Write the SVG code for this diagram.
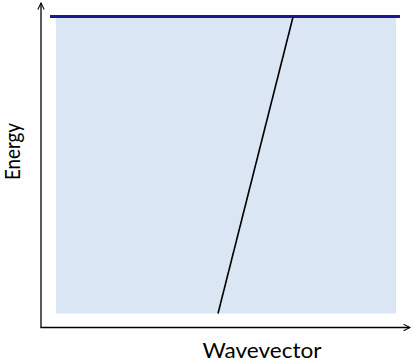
<svg xmlns="http://www.w3.org/2000/svg" width="413" height="361" viewBox="0 0 413 361">
<defs>
<style>
.ax{stroke:#000;stroke-width:1.3;fill:none}
.lbl{font-family:Lato,"Liberation Sans",sans-serif;font-size:21px;fill:#000}
</style>
<marker id="arr" viewBox="0 0 10 10" refX="9" refY="5" markerWidth="8" markerHeight="8" orient="auto" markerUnits="userSpaceOnUse">
<path d="M1,1 L9,5 L1,9" fill="none" stroke="#000" stroke-width="1.3"/>
</marker>
</defs>
<rect x="0" y="0" width="413" height="361" fill="#fff"/>
<g id="band">
<rect x="56" y="17" width="340" height="296.5" fill="#dae6f4"/>
</g>
<g id="connectors">
<line class="ax" x1="41" y1="327.5" x2="41" y2="3" marker-end="url(#arr)"/>
<line class="ax" x1="40.4" y1="327.5" x2="410" y2="327.5" marker-end="url(#arr)"/>
<line x1="50" y1="16.5" x2="400" y2="16.5" stroke="#1a1a8c" stroke-width="3"/>
<line x1="218" y1="313.5" x2="293" y2="17" stroke="#000" stroke-width="1.6"/>
</g>
<g id="labels">
<text class="lbl" x="202.5" y="357.7" textLength="119" lengthAdjust="spacingAndGlyphs">Wavevector</text>
<text class="lbl" transform="translate(20,180) rotate(-90)" font-size="20" textLength="57" lengthAdjust="spacingAndGlyphs">Energy</text>
</g>
</svg>
